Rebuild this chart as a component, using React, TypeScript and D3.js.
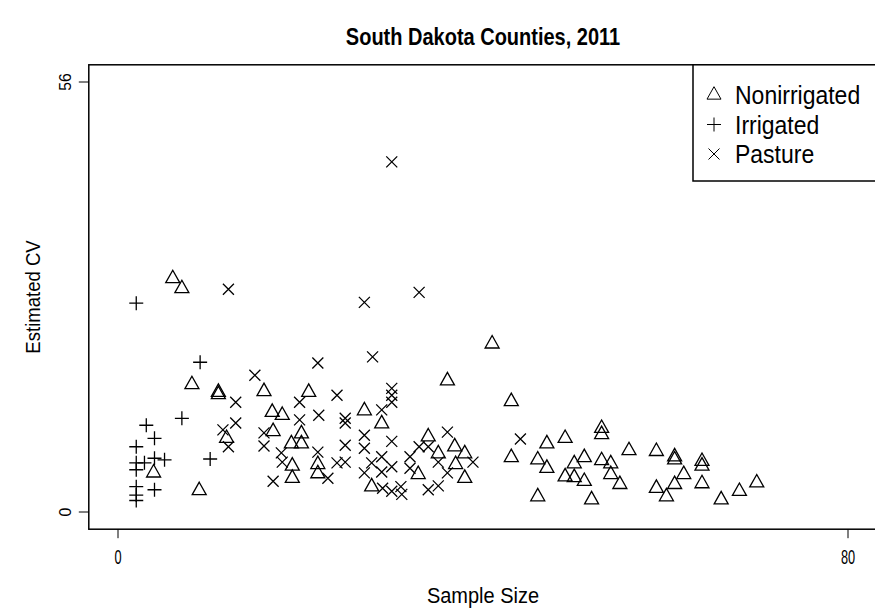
import React, { useEffect, useRef } from "react";
import * as d3 from "d3";

// Sample size (x) and estimated CV (y)
const nonirrigatedX = [6.0, 7.0, 8.1, 11.0, 11.0, 16.0, 20.9, 16.9, 18.0, 17.0, 11.9, 19.0, 20.1, 20.1, 3.9, 8.9, 19.1, 19.1, 21.9, 21.9, 27.0, 28.9, 27.8, 32.9, 36.1, 41.0, 43.1, 34.0, 35.1, 36.9, 38.0, 37.0, 38.0, 43.1, 46.0, 47.0, 49.0, 46.0, 47.0, 49.0, 50.0, 51.1, 50.0, 51.1, 53.0, 53.0, 53.0, 54.0, 54.0, 55.0, 51.9, 56.0, 59.0, 61.0, 61.0, 62.0, 61.0, 59.0, 60.1, 64.0, 64.0, 64.0, 66.1, 68.1, 70.0];
const nonirrigatedY = [30.4, 29.1, 16.6, 15.6, 15.3, 15.7, 15.6, 13.0, 12.6, 10.5, 9.6, 8.9, 10.2, 8.9, 5.1, 2.8, 6.0, 4.4, 6.2, 5.0, 13.2, 11.5, 3.3, 4.9, 17.1, 21.9, 14.4, 9.8, 7.6, 8.5, 7.6, 6.2, 4.4, 7.1, 2.0, 8.9, 9.6, 6.8, 5.7, 4.6, 6.3, 7.1, 4.5, 4.0, 10.9, 10.1, 6.7, 6.3, 4.9, 3.6, 1.6, 8.0, 7.9, 7.2, 6.8, 4.9, 3.6, 3.1, 2.0, 6.6, 6.0, 3.7, 1.6, 2.7, 3.8];

const irrigatedX = [2.0, 9.0, 7.0, 3.1, 4.0, 2.0, 4.0, 5.1, 10.1, 2.0, 2.9, 2.0, 4.0, 2.0, 2.0, 2.0];
const irrigatedY = [27.2, 19.5, 12.2, 11.3, 9.6, 8.5, 7.0, 6.8, 6.9, 6.4, 6.4, 5.5, 2.9, 3.3, 2.2, 1.5];

const pastureX = [30.0, 33.0, 27.0, 12.1, 27.9, 21.9, 15.0, 30.0, 30.0, 30.0, 12.9, 12.9, 11.5, 12.1, 19.9, 22.0, 24.0, 19.9, 16.0, 16.0, 17.9, 18.0, 17.0, 21.9, 23.0, 24.0, 24.9, 24.9, 24.9, 24.9, 27.0, 27.0, 27.0, 28.9, 30.0, 28.9, 27.8, 28.9, 30.0, 29.0, 30.0, 31.0, 31.1, 32.0, 32.0, 33.0, 34.0, 35.1, 36.1, 36.1, 34.0, 35.1, 38.9, 44.1];
const pastureY = [45.6, 28.6, 27.3, 29.0, 20.2, 19.4, 17.8, 16.1, 15.2, 14.3, 14.3, 11.6, 10.7, 8.5, 14.3, 12.6, 15.2, 12.0, 10.3, 8.6, 7.7, 6.5, 4.0, 7.8, 4.4, 6.4, 12.2, 11.6, 8.7, 6.5, 10.0, 8.3, 5.1, 13.3, 9.2, 7.2, 6.4, 5.2, 5.9, 3.1, 2.7, 3.3, 2.3, 7.2, 5.7, 8.5, 8.5, 6.5, 10.4, 5.1, 2.9, 3.4, 6.5, 9.5];

const legendLabels = ["Nonirrigated", "Irrigated", "Pasture"];
const xTicks = [0, 80];
const yTicks = [0, 56];

const width = 875;
const height = 608;
const font = "Arial, 'Liberation Sans', sans-serif";

// R style symbols: pch 2 (triangle), pch 3 (plus), pch 4 (cross)
const triangle = (cx, cy) => {
  const r = 8.3;
  const dx = 7;
  return `M${cx},${cy - r}L${cx + dx},${cy + r / 2}L${cx - dx},${cy + r / 2}Z`;
};
const plus = (cx, cy) => {
  const a = 7;
  return `M${cx - a},${cy}H${cx + a}M${cx},${cy - a}V${cy + a}`;
};
const cross = (cx, cy) => {
  const a = 5.5;
  return `M${cx - a},${cy - a}L${cx + a},${cy + a}M${cx - a},${cy + a}L${cx + a},${cy - a}`;
};
const shapes = [triangle, plus, cross];

const App = () => {
  const svgRef = useRef(null);

  useEffect(() => {
    const svg = d3.select(svgRef.current);
    svg.selectAll("*").remove();

    const x = d3.scaleLinear().domain([0, 80]).range([118, 848]);
    const y = d3.scaleLinear().domain([0, 56]).range([512, 82]);

    // plot box (R extends each axis by 4%)
    const x0 = x(-3.2), x1 = x(83.2), y0 = y(-2.24), y1 = y(58.24);

    const series = [
      d3.zip(nonirrigatedX, nonirrigatedY),
      d3.zip(irrigatedX, irrigatedY),
      d3.zip(pastureX, pastureY),
    ];

    const g = svg.append("g");
    series.forEach((pts, i) => {
      g.append("g")
        .selectAll("path")
        .data(pts)
        .join("path")
        .attr("d", (d) => shapes[i](x(d[0]), y(d[1])))
        .attr("fill", "none")
        .attr("stroke", "#000")
        .attr("stroke-width", 1.3);
    });

    svg.append("rect")
      .attr("x", x0).attr("y", y1)
      .attr("width", x1 - x0).attr("height", y0 - y1)
      .attr("fill", "none").attr("stroke", "#000").attr("stroke-width", 1.5);

    // x axis
    const xa = svg.append("g");
    xa.selectAll("line").data(xTicks).join("line")
      .attr("x1", (d) => x(d)).attr("x2", (d) => x(d))
      .attr("y1", y0).attr("y2", y0 + 9)
      .attr("stroke", "#000");
    xa.selectAll("text").data(xTicks).join("text")
      .attr("transform", (d) => `translate(${x(d)},${y0 + 35}) scale(0.85,1.3)`)
      .attr("text-anchor", "middle")
      .attr("font-family", font).attr("font-size", 15)
      .text((d) => d);

    // y axis
    const ya = svg.append("g");
    ya.selectAll("line").data(yTicks).join("line")
      .attr("x1", x0 - 10).attr("x2", x0)
      .attr("y1", (d) => y(d)).attr("y2", (d) => y(d))
      .attr("stroke", "#000");
    ya.selectAll("text").data(yTicks).join("text")
      .attr("transform", (d) => `translate(71,${y(d)}) rotate(-90) scale(1.05,1.1)`)
      .attr("text-anchor", "middle")
      .attr("font-family", font).attr("font-size", 15)
      .text((d) => d);

    const cxp = (x0 + x1) / 2;
    const cyp = (y0 + y1) / 2;

    svg.append("text")
      .attr("transform", `translate(${cxp},45) scale(1,1.18)`)
      .attr("text-anchor", "middle")
      .attr("font-family", font).attr("font-size", 20).attr("font-weight", "bold")
      .text("South Dakota Counties, 2011");

    svg.append("text")
      .attr("transform", `translate(${cxp},603) scale(1,1.12)`)
      .attr("text-anchor", "middle")
      .attr("font-family", font).attr("font-size", 20)
      .text("Sample Size");

    svg.append("text")
      .attr("transform", `translate(40,${cyp}) rotate(-90) scale(1.03,1.12)`)
      .attr("text-anchor", "middle")
      .attr("font-family", font).attr("font-size", 18)
      .text("Estimated CV");

    // legend
    const lg = svg.append("g");
    lg.append("rect")
      .attr("x", 693).attr("y", y1)
      .attr("width", x1 - 693).attr("height", 181 - y1)
      .attr("fill", "#fff").attr("stroke", "#000").attr("stroke-width", 1.5);
    legendLabels.forEach((label, i) => {
      const ly = 95 + i * 29.5;
      lg.append("path")
        .attr("d", shapes[i](714, ly))
        .attr("fill", "none").attr("stroke", "#000").attr("stroke-width", 1);
      lg.append("text")
        .attr("transform", `translate(735,${ly + 9}) scale(1,1.1)`)
        .attr("font-family", font).attr("font-size", 23)
        .text(label);
    });
  }, []);

  return (
    <svg
      ref={svgRef}
      width={width}
      height={height}
      style={{ position: "absolute", left: 0, top: 0, background: "#fff" }}
    />
  );
};

export default App;
